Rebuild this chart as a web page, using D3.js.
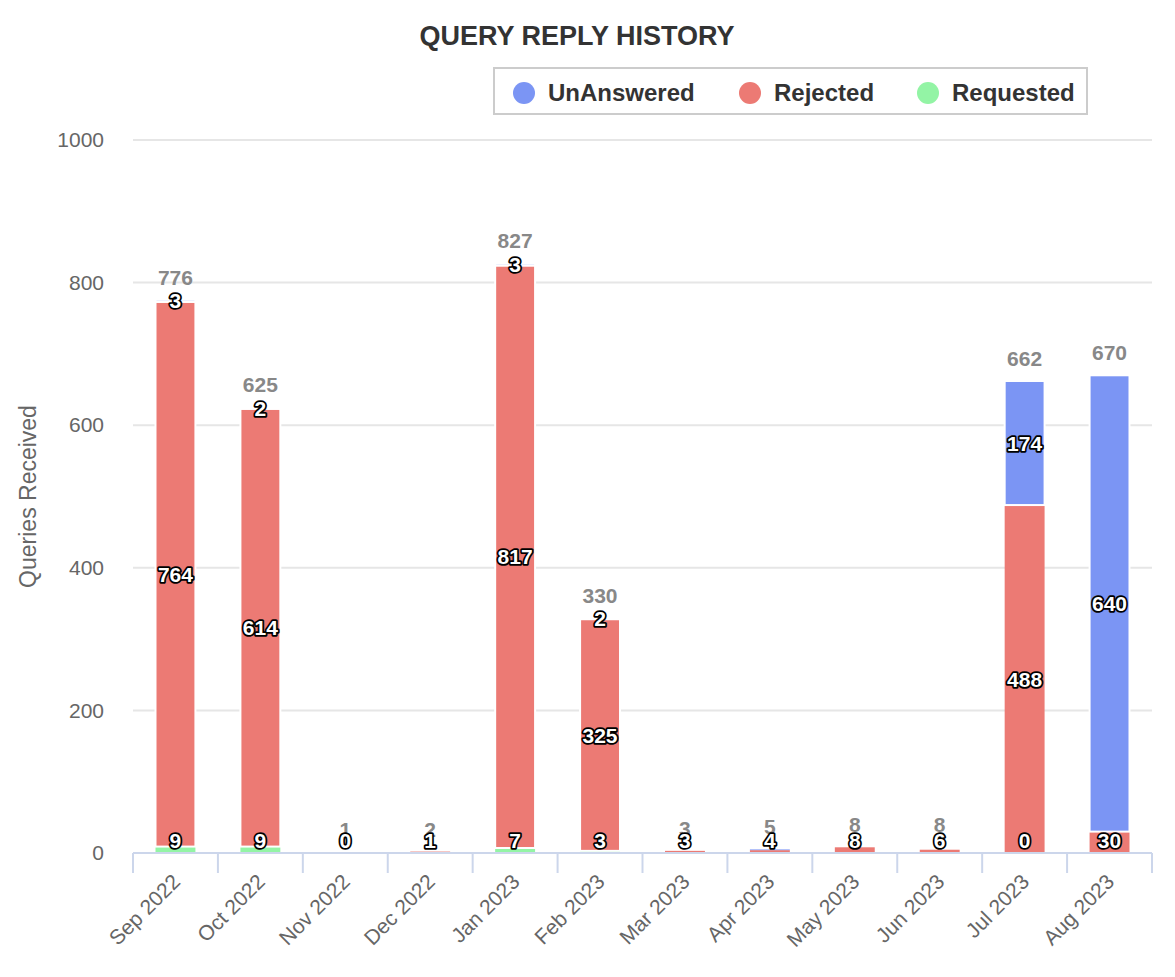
<!DOCTYPE html>
<html>
<head>
<meta charset="utf-8">
<script src="https://cdn.jsdelivr.net/npm/d3@7"></script>
<style>
  body { margin: 0; background: #fff; }
  text { font-family: "Liberation Sans", Arial, Helvetica, sans-serif; }
</style>
</head>
<body>
<script>
var months = ['Sep 2022', 'Oct 2022', 'Nov 2022', 'Dec 2022', 'Jan 2023', 'Feb 2023',
  'Mar 2023', 'Apr 2023', 'May 2023', 'Jun 2023', 'Jul 2023', 'Aug 2023'];
var requested = [9, 9, 0, 1, 7, 3, null, null, null, null, 0, null];
var rejected = [764, 614, 1, 1, 817, 325, 3, 4, 8, 6, 488, 30];
var unanswered = [3, 2, null, null, 3, 2, null, 1, null, 2, 174, 640];
var yTicks = [0, 200, 400, 600, 800, 1000];

var seriesNames = ['UnAnswered', 'Rejected', 'Requested'];
var seriesColors = { UnAnswered: '#7b95f4', Rejected: '#ec7a74', Requested: '#93f4a5' };

var W = 1175, H = 977;
var margin = { left: 133, right: 23, top: 140, bottom: 124 };
var width = W - margin.left - margin.right;
var height = H - margin.top - margin.bottom;

var rows = months.map(function(m, i) {
  return { month: m, Requested: requested[i], Rejected: rejected[i], UnAnswered: unanswered[i] };
});

var svg = d3.select('body').append('svg')
  .attr('width', W)
  .attr('height', H);

// title
svg.append('text')
  .attr('x', 577)
  .attr('y', 45)
  .attr('text-anchor', 'middle')
  .attr('font-size', '27px')
  .attr('font-weight', 'bold')
  .attr('fill', '#333')
  .text('QUERY REPLY HISTORY');

var g = svg.append('g').attr('transform', 'translate(' + margin.left + ',' + margin.top + ')');

var x = d3.scaleBand().domain(months).range([0, width]).paddingInner(0.53).paddingOuter(0.265);
var xBand = d3.scaleBand().domain(months).range([0, width]);
var y = d3.scaleLinear().domain([0, 1000]).range([height, 0]);

// grid
g.append('g').selectAll('line')
  .data(yTicks)
  .enter().append('line')
  .attr('x1', 0).attr('x2', width)
  .attr('y1', function(d) { return y(d); })
  .attr('y2', function(d) { return y(d); })
  .attr('stroke', '#e6e6e6')
  .attr('stroke-width', 2);

// y axis labels
var yAxis = g.append('g').call(d3.axisLeft(y).tickValues(yTicks).tickFormat(d3.format('d')).tickSize(0).tickPadding(29));
yAxis.select('.domain').remove();
yAxis.selectAll('text')
  .attr('font-size', '21px')
  .attr('fill', '#666')
  .attr('font-family', '"Liberation Sans", Arial, sans-serif');

svg.append('text')
  .attr('transform', 'translate(36,' + (margin.top + height / 2) + ') rotate(-90)')
  .attr('text-anchor', 'middle')
  .attr('font-size', '23px')
  .attr('fill', '#666')
  .text('Queries Received');

// stacked bars
var stack = d3.stack()
  .keys(['Requested', 'Rejected', 'UnAnswered'])
  .value(function(d, key) { return d[key] || 0; });
var layers = stack(rows);

layers.forEach(function(layer) {
  g.append('g')
    .selectAll('rect')
    .data(layer)
    .enter().append('rect')
    .attr('x', function(d) { return x(d.data.month); })
    .attr('width', x.bandwidth())
    .attr('y', function(d) { return y(d[1]); })
    .attr('height', function(d) { return Math.max(0, y(d[0]) - y(d[1])); })
    .attr('fill', seriesColors[layer.key])
    .attr('stroke', '#fff')
    .attr('stroke-width', function(d) {
      // white border like the original; skip it on bottom segments
      return d[0] > 0 && y(d[0]) - y(d[1]) >= 1 ? 2 : 0;
    });
});

// x axis
var xAxisG = g.append('g').attr('transform', 'translate(0,' + height + ')');
xAxisG.append('line')
  .attr('x1', 0).attr('x2', width)
  .attr('stroke', '#ccd6eb').attr('stroke-width', 2);
xAxisG.selectAll('.tick-mark')
  .data(months.concat(['end']))
  .enter().append('line')
  .attr('class', 'tick-mark')
  .attr('x1', function(d, i) { return i * xBand.step(); })
  .attr('x2', function(d, i) { return i * xBand.step(); })
  .attr('y1', 0).attr('y2', 20)
  .attr('stroke', '#ccd6eb').attr('stroke-width', 2);
xAxisG.selectAll('.xlab')
  .data(months)
  .enter().append('text')
  .attr('class', 'xlab')
  .attr('transform', function(d) {
    return 'translate(' + (xBand(d) + xBand.bandwidth() / 2 + 6) + ',30) rotate(-45)';
  })
  .attr('text-anchor', 'end')
  .attr('font-size', '21px')
  .attr('fill', '#666')
  .text(function(d) { return d; });

// totals
g.append('g').selectAll('text')
  .data(rows)
  .enter().append('text')
  .attr('x', function(d) { return x(d.month) + x.bandwidth() / 2; })
  .attr('y', function(d) {
    return y((d.Requested || 0) + (d.Rejected || 0) + (d.UnAnswered || 0)) - 15;
  })
  .attr('text-anchor', 'middle')
  .attr('font-size', '21px')
  .attr('font-weight', 'bold')
  .attr('fill', '#888')
  .text(function(d) { return (d.Requested || 0) + (d.Rejected || 0) + (d.UnAnswered || 0); });

// data labels, hidden when they collide inside a column
var placed = months.map(function() { return []; });
var labels = [];
layers.forEach(function(layer) {
  layer.forEach(function(d, i) {
    var v = d.data[layer.key];
    if (v === null) return;
    var cy = (y(d[0]) + y(d[1])) / 2;
    cy = Math.min(cy, height - 13);
    var hit = placed[i].some(function(p) { return Math.abs(p - cy) < 22; });
    if (hit) return;
    placed[i].push(cy);
    labels.push({ month: d.data.month, cy: cy, v: v });
  });
});

g.append('g').selectAll('text')
  .data(labels)
  .enter().append('text')
  .attr('x', function(d) { return x(d.month) + x.bandwidth() / 2; })
  .attr('y', function(d) { return d.cy; })
  .attr('dy', '0.36em')
  .attr('text-anchor', 'middle')
  .attr('font-size', '21px')
  .attr('font-weight', 'bold')
  .attr('fill', '#fff')
  .attr('stroke', '#000')
  .attr('stroke-width', 3.5)
  .attr('stroke-linejoin', 'round')
  .attr('paint-order', 'stroke')
  .text(function(d) { return d.v; });

// legend
var legend = svg.append('g');
legend.append('rect')
  .attr('x', 494).attr('y', 68)
  .attr('width', 593).attr('height', 46)
  .attr('fill', '#fff')
  .attr('stroke', '#cccccc')
  .attr('stroke-width', 2);
var legendX = { UnAnswered: 524, Rejected: 750, Requested: 928 };
seriesNames.forEach(function(name) {
  legend.append('circle')
    .attr('cx', legendX[name]).attr('cy', 93)
    .attr('r', 11)
    .attr('fill', seriesColors[name]);
  legend.append('text')
    .attr('x', legendX[name] + 24).attr('y', 101)
    .attr('font-size', '24px')
    .attr('font-weight', 'bold')
    .attr('fill', '#333')
    .text(name);
});
</script>
</body>
</html>
